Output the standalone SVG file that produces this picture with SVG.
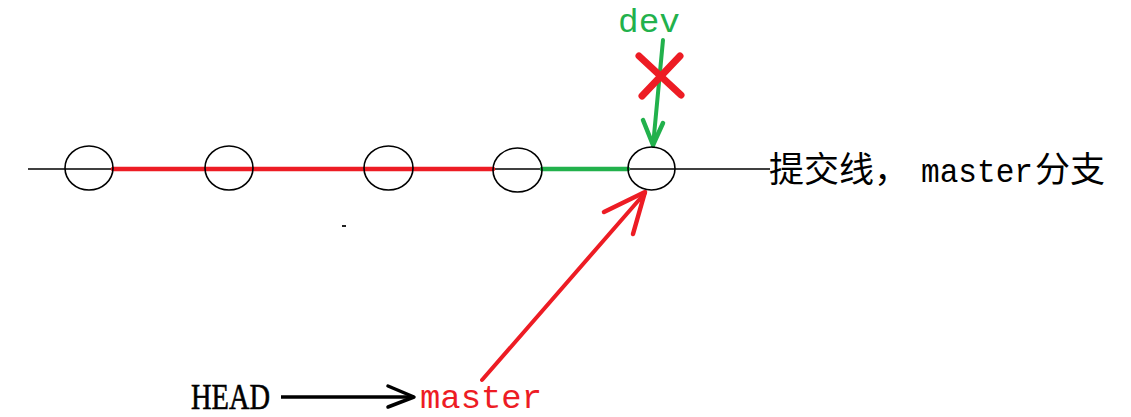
<svg xmlns="http://www.w3.org/2000/svg" width="1131" height="417" viewBox="0 0 1131 417">
  <style>
    .commit { fill: none; stroke: #000; stroke-width: 1.6; }
    .red { stroke: #ED1C24; fill: none; stroke-linecap: round; stroke-linejoin: round; }
    .green { stroke: #22B14C; fill: none; stroke-linecap: round; stroke-linejoin: round; }
    .mono { font-family: "Liberation Mono", "DejaVu Sans Mono", monospace; font-size: 34px; }
    .cjk { font-family: "Noto Sans CJK SC", "Liberation Serif", sans-serif; font-size: 35px; fill: #000; }
  </style>
  <rect width="1131" height="417" fill="#fff"/>
  <g id="connectors">
    <line x1="28" y1="169" x2="770" y2="169" stroke="#000" stroke-width="1.5"/>
    <line class="red" x1="113" y1="169" x2="493" y2="169" stroke-width="4.5"/>
    <line class="green" x1="542" y1="169" x2="628" y2="169" stroke-width="4.5"/>
    <g id="dev-arrow">
      <line class="green" x1="663" y1="40" x2="653" y2="146" stroke-width="4"/>
      <polyline class="green" points="643,120 653,145 663,123" stroke-width="4.5"/>
    </g>
    <g id="cross">
      <line class="red" x1="639" y1="56" x2="681" y2="95" stroke-width="7"/>
      <line class="red" x1="680" y1="56" x2="642" y2="96" stroke-width="7"/>
    </g>
    <g id="master-arrow">
      <line class="red" x1="482" y1="380" x2="645" y2="193" stroke-width="4"/>
      <polyline class="red" points="604,212 645,192 633,234" stroke-width="4.5"/>
    </g>
    <g id="head-arrow">
      <line x1="281" y1="397" x2="414" y2="397" stroke="#000" stroke-width="3.5"/>
      <polyline points="388,386 414,397 388,407" fill="none" stroke="#000" stroke-width="3.5" stroke-linejoin="round" stroke-linecap="round"/>
    </g>
  </g>
  <g id="c1"><ellipse class="commit" cx="89" cy="168" rx="24" ry="22"/></g>
  <g id="c2"><ellipse class="commit" cx="229" cy="168" rx="24" ry="22"/></g>
  <g id="c3"><ellipse class="commit" cx="388.5" cy="168" rx="24.5" ry="22"/></g>
  <g id="c4"><ellipse class="commit" cx="517.5" cy="170" rx="24.5" ry="22"/></g>
  <g id="c5"><ellipse class="commit" cx="651.5" cy="168.5" rx="23.5" ry="21.5"/></g>
  <rect x="342" y="225" width="4" height="2" fill="#222"/>
  <g id="dev-label">
    <text class="mono" x="618" y="32" fill="#22B14C" textLength="62" lengthAdjust="spacingAndGlyphs">dev</text>
  </g>
  <g id="line-label">
    <text class="cjk" x="769" y="182">提交线，</text>
    <text class="mono" x="921" y="182" fill="#000" font-size="33" textLength="112" lengthAdjust="spacingAndGlyphs">master</text>
    <text class="cjk" x="1035" y="182">分支</text>
  </g>
  <g id="head-label">
    <text x="191" y="409" font-family="Liberation Serif, serif" font-size="35" fill="#000" stroke="#000" stroke-width="0.6" textLength="79" lengthAdjust="spacingAndGlyphs">HEAD</text>
  </g>
  <g id="master-label">
    <text class="mono" x="420" y="408" font-size="33" fill="#ED1C24" textLength="122" lengthAdjust="spacingAndGlyphs">master</text>
  </g>
</svg>
